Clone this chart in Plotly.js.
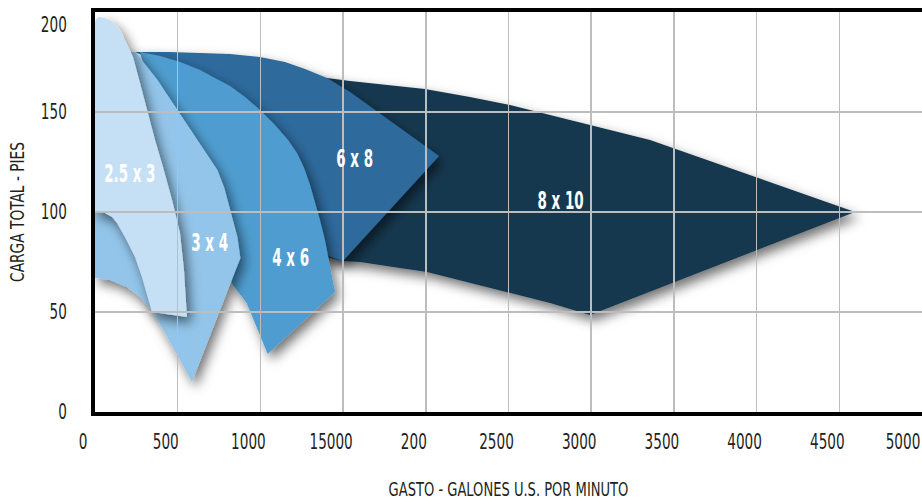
<!DOCTYPE html>
<html>
<head>
<meta charset="utf-8">
<script src="https://cdn.plot.ly/plotly-3.0.1.min.js"></script>
<style>
  html, body { margin: 0; padding: 0; background: #ffffff; }
  #chart { width: 922px; height: 501px; }
</style>
</head>
<body>
<div id="chart"></div>
<script>
// ---- data (outlines; x = US gpm, y = feet of head) ----
const seriesNames = ['8 x 10', '6 x 8', '4 x 6', '3 x 4', '2.5 x 3'];

const pump8x10_x = [1179, 1403, 1542, 1784, 1995, 2267, 2509, 2751, 2993, 3174, 3356, 4595, 2993, 2751, 2509, 2328, 2146, 2007, 1844, 1723, 1602, 1499, 1239];
const pump8x10_y = [167.5, 167, 165.5, 163.5, 161.5, 157.5, 153.5, 148.5, 143.5, 139.5, 136, 100, 48.5, 54.5, 59.5, 63.5, 67, 70, 72, 73.5, 75, 75.5, 81];

const pump6x8_x = [242, 453, 635, 816, 998, 1149, 1270, 1403, 1542, 2080, 1499, 1391, 1179, 877, 514];
const pump6x8_y = [180, 180, 179.5, 179, 177.5, 175, 171.5, 167, 160, 128, 75.5, 78.5, 106, 141, 170];

const pump4x6_x = [272, 393, 514, 635, 713, 816, 907, 998, 1088, 1167, 1221, 1264, 1300, 1330, 1360, 1390, 1415, 1433, 1451, 1044, 978, 917, 834, 768, 695, 605, 484, 363, 302];
const pump4x6_y = [180, 178, 175, 171, 167.5, 163, 157.5, 151, 143.5, 136, 129.5, 122, 113.5, 105, 96, 86, 76, 68, 60, 29, 42.5, 54.5, 63.5, 76, 91, 116, 141, 161, 171];

const pump3x4_x = [0, 245, 311, 378, 438, 498, 565, 631, 691, 740, 782, 819, 843, 861, 879, 586, 514, 435, 351, 272, 193, 91, 0];
const pump3x4_y = [180, 180, 173, 166, 158.5, 151, 142.5, 134, 127, 121, 112, 101, 94, 87.5, 77, 15, 26, 37.5, 50, 57.5, 62.5, 66, 67];

const pump25x3_x = [0, 12, 30, 60, 91, 115, 139, 163, 181, 212, 230, 272, 314, 363, 411, 466, 514, 538, 556, 345, 284, 242, 181, 133, 103, 60, 0];
const pump25x3_y = [195, 197, 197.5, 197, 196, 194.5, 192.5, 189.5, 186, 181, 177.5, 164.5, 151, 136, 122.5, 106, 89.5, 71, 47.5, 50, 67.5, 77.5, 87.5, 94.5, 97.5, 99.5, 100];

const labelX = [2817, 1566, 1179, 695, 212];
const labelY = [106, 127, 77.5, 85, 119.5];

const xTickVals = [0, 500, 1000, 1500, 2000, 2500, 3000, 3500, 4000, 4500, 5000];
const xTickText = ['0', '500', '1000', '15000', '200', '2500', '3000', '3500', '4000', '4500', '5000'];
const yTickVals = [0, 50, 100, 150, 200];
const yTickText = ['0', '50', '100', '150', '200'];

const xTitle = 'GASTO - GALONES U.S. POR MINUTO';
const yTitle = 'CARGA TOTAL - PIES';

// ---- styling ----
const colors = ['#19384f', '#2d6a9c', '#4f9dd0', '#93c5ea', '#c5e0f4'];
const FONT = "'Liberation Sans Narrow', 'DejaVu Sans Condensed', 'Arial Narrow', sans-serif";

const xs = [pump8x10_x, pump6x8_x, pump4x6_x, pump3x4_x, pump25x3_x];
const ys = [pump8x10_y, pump6x8_y, pump4x6_y, pump3x4_y, pump25x3_y];

const traces = seriesNames.map((n, i) => ({
  type: 'scatter',
  mode: 'lines',
  name: n,
  x: xs[i],
  y: ys[i],
  fill: 'toself',
  fillcolor: colors[i],
  line: { width: 0, color: colors[i] },
  hoverinfo: 'skip',
  showlegend: false
}));

const annotations = seriesNames.map((n, i) => ({
  x: labelX[i], y: labelY[i], xref: 'x', yref: 'y',
  text: n, showarrow: false,
  font: { family: FONT, size: 25, color: '#ffffff', weight: 'bold' }
}));

const layout = {
  width: 922, height: 501,
  margin: { l: 95, r: 0, t: 12, b: 89 },
  paper_bgcolor: '#ffffff',
  plot_bgcolor: '#ffffff',
  showlegend: false,
  xaxis: {
    range: [0, 5000],
    tickvals: xTickVals, ticktext: xTickText,
    ticks: '', ticklabelstandoff: 8, ticklabelshift: -12, ticklabeloverflow: 'allow',
    tickfont: { family: FONT, size: 21, color: '#231f20' },
    showgrid: true, gridcolor: '#bdbdbd', gridwidth: 1.5,
    zeroline: false,
    showline: true, linecolor: '#000000', linewidth: 4, mirror: true,
    title: { text: xTitle, font: { family: FONT, size: 20, color: '#231f20' }, standoff: 30 },
    fixedrange: true
  },
  yaxis: {
    range: [0, 200],
    tickvals: yTickVals, ticktext: yTickText,
    ticks: '', ticklabelstandoff: 20, ticklabeloverflow: 'allow',
    tickfont: { family: FONT, size: 21, color: '#231f20' },
    showgrid: true, gridcolor: '#bdbdbd', gridwidth: 1.5,
    zeroline: false,
    showline: true, linecolor: '#000000', linewidth: 4, mirror: true,
    title: { text: yTitle, font: { family: FONT, size: 20, color: '#231f20' }, standoff: 2 },
    fixedrange: true
  },
  annotations: annotations
};

function squeeze(el, sx, pivot, dx, dy) {
  const bb = el.getBBox();
  let px = bb.x + bb.width / 2;
  if (pivot === 'end') px = bb.x + bb.width;
  const prev = el.getAttribute('transform') || '';
  el.setAttribute('transform', prev + ' translate(' + (px + (dx || 0)) + ',' + (dy || 0) + ') scale(' + sx + ',1) translate(' + (-px) + ',0)');
}
function fitWidth(el, target) {
  const bb = el.getBBox();
  squeeze(el, Math.min(1, target / bb.width), 'mid');
}

Plotly.newPlot('chart', traces, layout, { displayModeBar: false, staticPlot: true }).then(gd => {
  const svgNS = 'http://www.w3.org/2000/svg';
  const svg = gd.querySelector('svg.main-svg');
  const defs = document.createElementNS(svgNS, 'defs');
  const filter = document.createElementNS(svgNS, 'filter');
  filter.setAttribute('id', 'softShadow');
  filter.setAttribute('x', '-50%'); filter.setAttribute('y', '-50%');
  filter.setAttribute('width', '200%'); filter.setAttribute('height', '200%');
  const ds = document.createElementNS(svgNS, 'feDropShadow');
  ds.setAttribute('dx', '4'); ds.setAttribute('dy', '6');
  ds.setAttribute('stdDeviation', '6');
  ds.setAttribute('flood-color', '#000000');
  ds.setAttribute('flood-opacity', '0.55');
  filter.appendChild(ds);
  defs.appendChild(filter);
  svg.insertBefore(defs, svg.firstChild);
  gd.querySelectorAll('.scatterlayer .trace path.js-fill').forEach(p => {
    p.setAttribute('filter', 'url(#softShadow)');
  });
  // gridlines are drawn over the shapes in the reference
  const grid = gd.querySelector('.gridlayer');
  const over = gd.querySelector('.overplot');
  if (grid && over) over.parentNode.insertBefore(grid, over.nextSibling);
  // condensed lettering
  const xt = gd.querySelectorAll('.xtick text');
  xt.forEach((t, i) => squeeze(t, 0.72, 'mid', i === xt.length - 1 ? -7 : 0));
  const yt = gd.querySelectorAll('.ytick text');
  yt.forEach(t => squeeze(t, 0.72, 'end', 0, t.textContent === '200' ? 13 : 0));
  gd.querySelectorAll('.annotation-text').forEach(t => squeeze(t, 0.6, 'mid'));
  const xTitleEl = gd.querySelector('.xtitle');
  const yTitleEl = gd.querySelector('.ytitle');
  if (xTitleEl) fitWidth(xTitleEl, 240);
  if (yTitleEl) fitWidth(yTitleEl, 140);
});
</script>
</body>
</html>
